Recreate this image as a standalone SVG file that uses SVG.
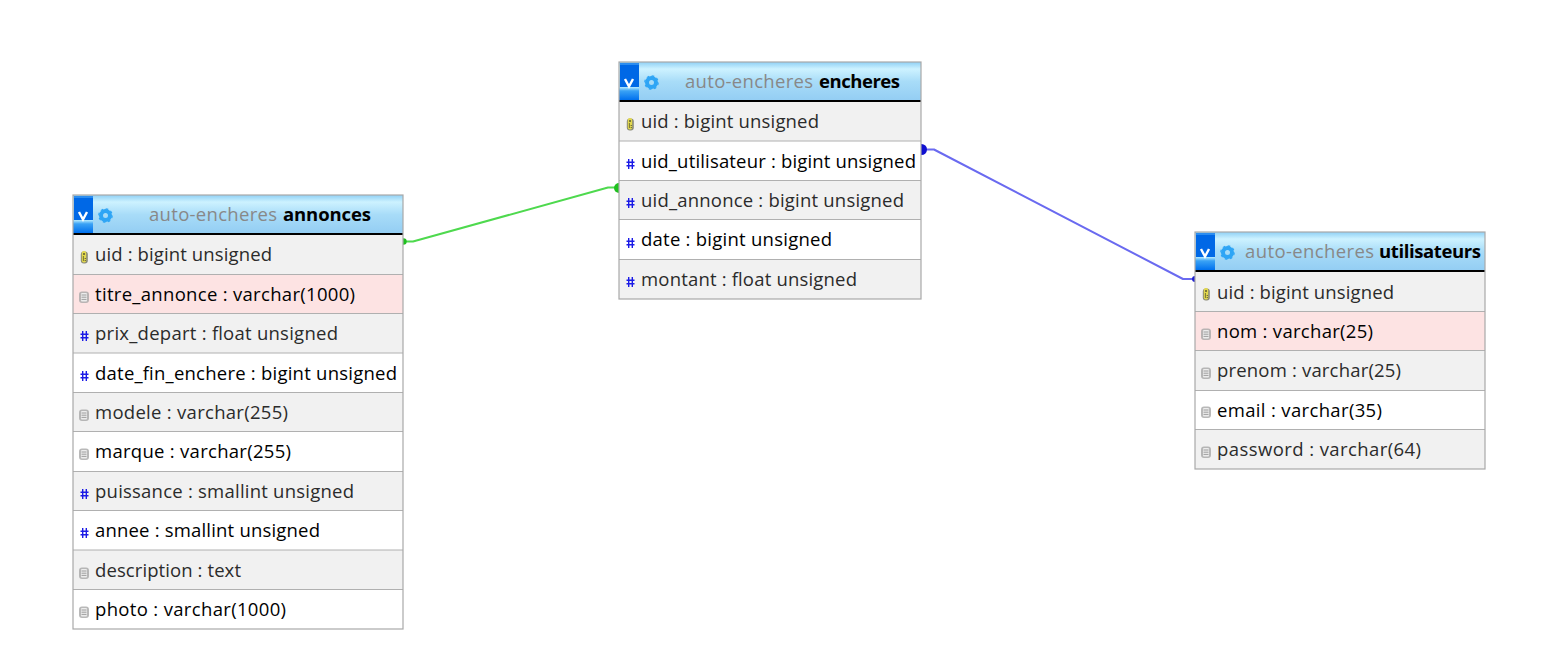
<svg xmlns="http://www.w3.org/2000/svg" width="1547" height="646" viewBox="0 0 1547 646">
<style>
text{font-family:"Open Sans","Noto Sans","Liberation Sans",sans-serif;font-size:18.5px}
.box{fill:none;stroke:#a9a9a9;stroke-width:1.2}
.o{fill:#f1f1f1}.e{fill:#fff}.p{fill:#fde3e3}
.sep{stroke:#b0b0b0;stroke-width:1}
.bar{stroke:#000;stroke-width:2}
.dk{fill:#2b2b2b}.bk{fill:#000}
.db{fill:#888}
.t{font-weight:700;fill:#000}
.hash{stroke:#1a1ae6;stroke-width:1.4;fill:none}
</style>
<defs>
<linearGradient id="hd" x1="0" y1="0" x2="0" y2="1"><stop offset="0" stop-color="#8fd0f5"/><stop offset=".18" stop-color="#cdf2ff"/><stop offset=".5" stop-color="#a8dcf8"/><stop offset="1" stop-color="#93cdf3"/></linearGradient>
<linearGradient id="v2" x1="0" y1="0" x2="0" y2="1"><stop offset="0" stop-color="#b8ecff"/><stop offset=".3" stop-color="#3aa2f5"/><stop offset="1" stop-color="#0070ee"/></linearGradient>
<g id="head">
<rect x="1" y="1" width="19" height="24" fill="#0068e6"/>
<rect x="1" y="1" width="19" height="2" fill="#2b8df0"/>
<rect x="0" y="25" width="20" height="13" fill="url(#v2)"/>
<path d="M6 17L10 24.500L14 17" fill="none" stroke="#fff" stroke-width="2.400"/>
<circle cx="32.500" cy="20.500" r="4.500" fill="none" stroke="#2ea5f5" stroke-width="4"/>
<circle cx="32.500" cy="20.500" r="6.700" fill="none" stroke="#2ea5f5" stroke-width="1.200" stroke-dasharray="2.600 2.660"/>
</g>
<g id="key"><rect x="-3.200" y="-5.500" width="7" height="12" rx="3" fill="#8a8a78"/><rect x="-2.200" y="-6" width="4.400" height="11.500" rx="2" fill="#e2d84e"/><circle cx="0" cy="-3" r="1" fill="#5a5a30"/><path d="M-.6 -1V4M.6 1.500H2M.6 3.500H2" stroke="#5a5a30" stroke-width=".8"/></g>
<g id="hash"><path class="hash" d="M-1.800 -5V5M1.800 -5V5M-4 -1.800H4M-4 1.800H4"/></g>
<g id="txt"><rect x="-5" y="-5.500" width="10" height="11.500" rx="3" fill="#a8a8a8" opacity=".8"/><rect x="-3" y="-4" width="6" height="8.500" rx="1" fill="#ececec"/><path d="M-2.500 -2H2.500M-2.500 .2H2.500M-2.500 2.400H2.500" stroke="#8a8a8a" stroke-width=".8"/></g>
</defs>

<g id="connectors" fill="none" stroke-linejoin="round">
<path d="M403 241.500H413L608 187.500H619" stroke="#4ed94e" stroke-width="2"/>
<circle cx="403.500" cy="241.500" r="3.200" fill="#1fc01f"/>
<circle cx="619" cy="188" r="5" fill="#1fc01f"/>
<path d="M921 149.500H934L1183 279H1195" stroke="#6a6af0" stroke-width="2"/>
<circle cx="921.500" cy="149.500" r="5.500" fill="#1010d0"/>
<circle cx="1195" cy="279" r="3" fill="#2020d0"/>
</g>

<g id="annonces">
<rect x="73" y="195" width="330" height="39" fill="url(#hd)"/>
<use href="#head" x="73" y="195"/>
<rect x="73" y="235" width="330" height="39.500" class="o"/>
<rect x="73" y="274.500" width="330" height="39" class="p"/>
<rect x="73" y="313.500" width="330" height="39.500" class="o"/>
<rect x="73" y="353" width="330" height="39.500" class="e"/>
<rect x="73" y="392.500" width="330" height="39" class="o"/>
<rect x="73" y="431.500" width="330" height="40" class="e"/>
<rect x="73" y="471.500" width="330" height="39" class="o"/>
<rect x="73" y="510.500" width="330" height="39.500" class="e"/>
<rect x="73" y="550" width="330" height="39.500" class="o"/>
<rect x="73" y="589.500" width="330" height="39.500" class="e"/>
<path class="sep" d="M73 274.500H403M73 313.500H403M73 353H403M73 392.500H403M73 431.500H403M73 471.500H403M73 510.500H403M73 550H403M73 589.500H403"/>
<path class="bar" d="M73 234H403"/>
<rect class="box" x="73" y="195" width="330" height="434"/>
<text x="149" y="221" class="db"><tspan textLength="128">auto-encheres</tspan> <tspan class="t" x="283" textLength="88">annonces</tspan></text>
<use href="#key" x="84" y="257"/><text x="95" y="261" textLength="177" class="dk">uid : bigint unsigned</text>
<use href="#txt" x="84" y="297"/><text x="95" y="301" textLength="260" class="bk">titre_annonce : varchar(1000)</text>
<use href="#hash" x="84.500" y="336"/><text x="95" y="340" textLength="243" class="dk">prix_depart : float unsigned</text>
<use href="#hash" x="84.500" y="376"/><text x="95" y="380" textLength="302" class="bk">date_fin_enchere : bigint unsigned</text>
<use href="#txt" x="84" y="415"/><text x="95" y="419" textLength="193" class="dk">modele : varchar(255)</text>
<use href="#txt" x="84" y="454"/><text x="95" y="458" textLength="196" class="bk">marque : varchar(255)</text>
<use href="#hash" x="84.500" y="494"/><text x="95" y="498" textLength="259" class="dk">puissance : smallint unsigned</text>
<use href="#hash" x="84.500" y="533"/><text x="95" y="537" textLength="225" class="bk">annee : smallint unsigned</text>
<use href="#txt" x="84" y="573"/><text x="95" y="577" textLength="146" class="dk">description : text</text>
<use href="#txt" x="84" y="612"/><text x="95" y="616" textLength="191" class="bk">photo : varchar(1000)</text>
</g>

<g id="encheres">
<rect x="619" y="62" width="302" height="39" fill="url(#hd)"/>
<use href="#head" x="619" y="62"/>
<rect x="619" y="102" width="302" height="39" class="o"/>
<rect x="619" y="141" width="302" height="39.500" class="e"/>
<rect x="619" y="180.500" width="302" height="39" class="o"/>
<rect x="619" y="219.500" width="302" height="40" class="e"/>
<rect x="619" y="259.500" width="302" height="39.500" class="o"/>
<path class="sep" d="M619 141H921M619 180.500H921M619 219.500H921M619 259.500H921"/>
<path class="bar" d="M619 101H921"/>
<rect class="box" x="619" y="62" width="302" height="237"/>
<text x="685" y="88" class="db"><tspan textLength="128">auto-encheres</tspan> <tspan class="t" x="819" textLength="81">encheres</tspan></text>
<use href="#key" x="630" y="124"/><text x="641" y="128" textLength="178" class="dk">uid : bigint unsigned</text>
<use href="#hash" x="630.500" y="164"/><text x="641" y="168" textLength="275" class="bk">uid_utilisateur : bigint unsigned</text>
<use href="#hash" x="630.500" y="203"/><text x="641" y="207" textLength="263" class="dk">uid_annonce : bigint unsigned</text>
<use href="#hash" x="630.500" y="243"/><text x="641" y="246" textLength="191" class="bk">date : bigint unsigned</text>
<use href="#hash" x="630.500" y="282"/><text x="641" y="286" textLength="216" class="dk">montant : float unsigned</text>
</g>

<g id="utilisateurs">
<rect x="1195" y="232" width="290" height="39" fill="url(#hd)"/>
<use href="#head" x="1195" y="232"/>
<rect x="1195" y="272" width="290" height="39.500" class="o"/>
<rect x="1195" y="311.500" width="290" height="39" class="p"/>
<rect x="1195" y="350.500" width="290" height="40" class="o"/>
<rect x="1195" y="390.500" width="290" height="39" class="e"/>
<rect x="1195" y="429.500" width="290" height="39.500" class="o"/>
<path class="sep" d="M1195 311.500H1485M1195 350.500H1485M1195 390.500H1485M1195 429.500H1485"/>
<path class="bar" d="M1195 271H1485"/>
<rect class="box" x="1195" y="232" width="290" height="237"/>
<text x="1245" y="258" class="db"><tspan textLength="129">auto-encheres</tspan> <tspan class="t" x="1379" textLength="102">utilisateurs</tspan></text>
<use href="#key" x="1206" y="294"/><text x="1217" y="299" textLength="177" class="dk">uid : bigint unsigned</text>
<use href="#txt" x="1206" y="334"/><text x="1217" y="338" textLength="156" class="bk">nom : varchar(25)</text>
<use href="#txt" x="1206" y="373"/><text x="1217" y="377" textLength="184" class="dk">prenom : varchar(25)</text>
<use href="#txt" x="1206" y="412"/><text x="1217" y="417" textLength="165" class="bk">email : varchar(35)</text>
<use href="#txt" x="1206" y="452"/><text x="1217" y="456" textLength="204" class="dk">password : varchar(64)</text>
</g>
</svg>
